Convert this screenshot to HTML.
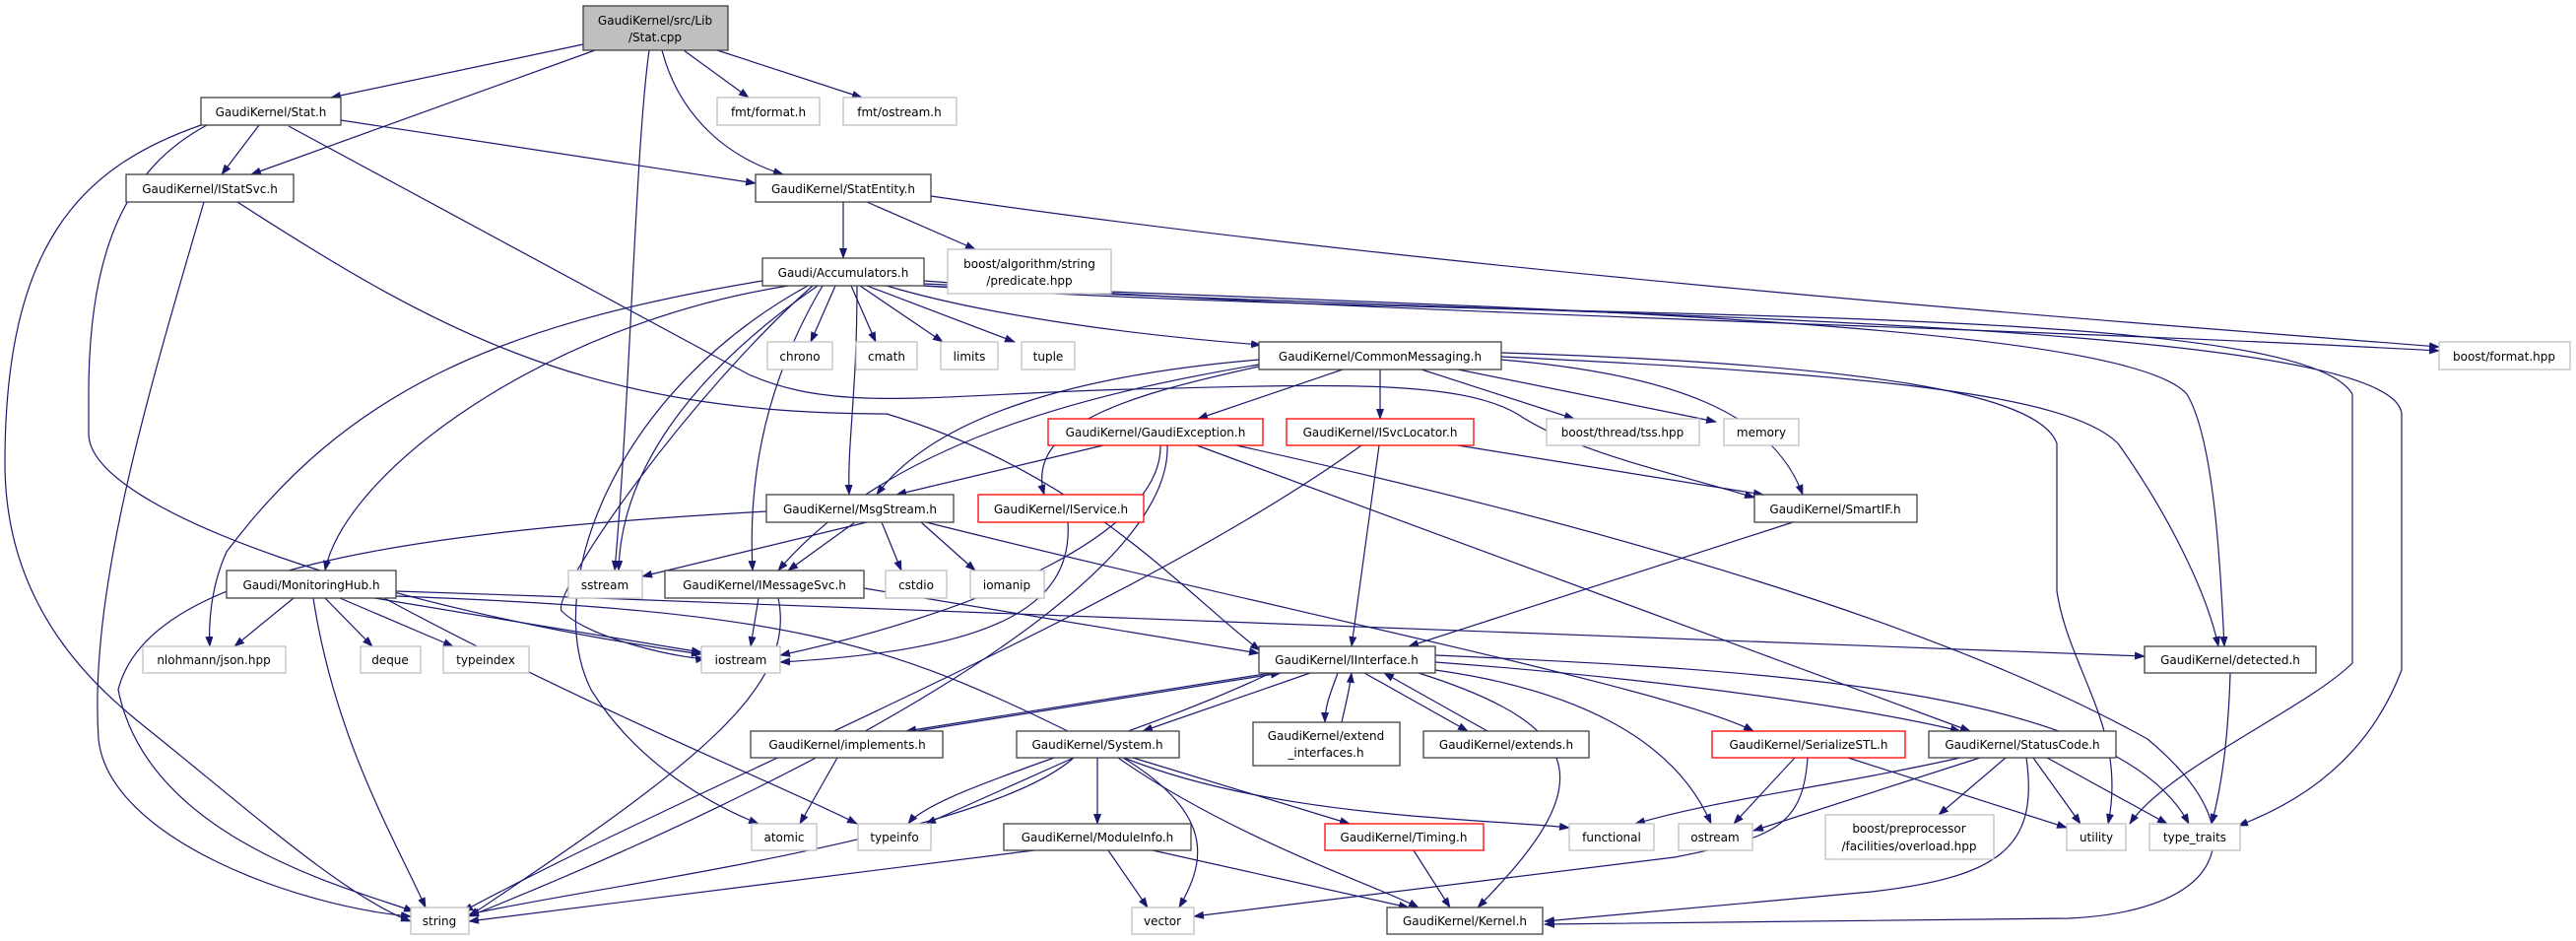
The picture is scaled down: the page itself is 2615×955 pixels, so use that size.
<!DOCTYPE html>
<html><head><meta charset="utf-8"><style>
html,body{margin:0;padding:0;background:#fff;}
svg{display:block;}
text{font-family:"DejaVu Sans","Liberation Sans",sans-serif;font-size:12px;fill:#000;text-anchor:middle;}
.e path{fill:none;stroke:#191970;stroke-width:1.2;}
.n rect{fill:#fff;stroke:#404040;stroke-width:1.3;}
.g rect{fill:#fff;stroke:#bfbfbf;stroke-width:1.3;}
.r rect{fill:#fff;stroke:#ff0000;stroke-width:1.3;}
</style></head><body>
<svg width="2615" height="955" viewBox="0 0 2615 955" xmlns="http://www.w3.org/2000/svg">
<defs><marker id="a" markerWidth="11" markerHeight="8" refX="10" refY="4" orient="auto" markerUnits="userSpaceOnUse"><path d="M0,0 L11,4 L0,8 z" fill="#191970"/></marker></defs>
<g class="e">
<path d="M592 45 L336 99" marker-end="url(#a)"/>
<path d="M604 51 L255 177" marker-end="url(#a)"/>
<path d="M659 51 C645 150,640 400,624 579" marker-end="url(#a)"/>
<path d="M672 51 C690 120,740 160,795 177" marker-end="url(#a)"/>
<path d="M694 51 L760 99" marker-end="url(#a)"/>
<path d="M728 51 L875 99" marker-end="url(#a)"/>
<path d="M263 127 L225 177" marker-end="url(#a)"/>
<path d="M346 122 L767 186" marker-end="url(#a)"/>
<path d="M204 127 C80 170,5 250,5 470 C5 620,100 700,150 740 C250 820,350 910,417 935" marker-end="url(#a)"/>
<path d="M210 127 C130 170,90 250,90 400 L90 440 C90 520,400 620,712 664" marker-end="url(#a)"/>
<path d="M293 128 L760 380 C850 420,950 400,1150 395 C1350 390,1480 385,1540 420 C1600 460,1700 480,1781 505" marker-end="url(#a)"/>
<path d="M207 205 C150 400,90 600,100 750 C110 850,300 920,417 930" marker-end="url(#a)"/>
<path d="M241 205 C450 340,600 420,900 420 C1100 480,1200 600,1279 660" marker-end="url(#a)"/>
<path d="M856 205 L856 262" marker-end="url(#a)"/>
<path d="M880 205 L990 253" marker-end="url(#a)"/>
<path d="M945 199 C1500 280,2200 330,2476 352" marker-end="url(#a)"/>
<path d="M848 290 L823 347" marker-end="url(#a)"/>
<path d="M864 290 L889 347" marker-end="url(#a)"/>
<path d="M873 290 L957 347" marker-end="url(#a)"/>
<path d="M880 290 L1030 347" marker-end="url(#a)"/>
<path d="M900 290 C1000 320,1150 340,1280 350" marker-end="url(#a)"/>
<path d="M938 285 C1400 320,2000 330,2476 356" marker-end="url(#a)"/>
<path d="M938 288 C1400 310,2150 320,2220 400 C2250 450,2255 600,2258 656" marker-end="url(#a)"/>
<path d="M938 290 C1500 330,2330 300,2388 400 L2388 673 C2340 720,2200 780,2162 836" marker-end="url(#a)"/>
<path d="M938 290 C1500 320,2430 320,2438 420 L2438 680 C2400 780,2320 820,2272 838" marker-end="url(#a)"/>
<path d="M800 290 C550 330,350 480,330 579" marker-end="url(#a)"/>
<path d="M774 285 C500 330,350 400,230 560 C212 600,212 640,213 656" marker-end="url(#a)"/>
<path d="M825 290 C700 400,560 600,570 620 C600 650,700 670,716 668" marker-end="url(#a)"/>
<path d="M830 290 C700 380,630 480,628 579" marker-end="url(#a)"/>
<path d="M870 290 C870 400,860 450,862 502" marker-end="url(#a)"/>
<path d="M820 290 C620 400,550 600,600 700 C650 780,730 820,770 836" marker-end="url(#a)"/>
<path d="M835 290 C770 400,760 500,764 579" marker-end="url(#a)"/>
<path d="M1363 375 L1216 425" marker-end="url(#a)"/>
<path d="M1401 375 L1401 425" marker-end="url(#a)"/>
<path d="M1443 375 L1598 425" marker-end="url(#a)"/>
<path d="M1480 375 L1742 428" marker-end="url(#a)"/>
<path d="M1524 365 C1700 380,1800 420,1830 502" marker-end="url(#a)"/>
<path d="M1524 362 C1900 380,2100 400,2150 450 C2200 520,2240 600,2252 656" marker-end="url(#a)"/>
<path d="M1524 358 C1900 370,2070 400,2088 450 L2088 600 C2100 680,2160 740,2140 836" marker-end="url(#a)"/>
<path d="M1278 365 C1100 380,950 420,890 502" marker-end="url(#a)"/>
<path d="M1278 370 C1100 400,900 450,790 579" marker-end="url(#a)"/>
<path d="M1278 372 C1150 400,1040 430,1060 502" marker-end="url(#a)"/>
<path d="M1120 452 L910 502" marker-end="url(#a)"/>
<path d="M1178 452 C1180 540,1000 620,792 665" marker-end="url(#a)"/>
<path d="M1185 452 C1190 600,800 800,476 930" marker-end="url(#a)"/>
<path d="M1215 452 L2000 742" marker-end="url(#a)"/>
<path d="M1255 452 C1700 550,2000 650,2180 750 C2300 850,2250 925,2100 932 L1568 938" marker-end="url(#a)"/>
<path d="M1480 452 L1790 502" marker-end="url(#a)"/>
<path d="M1400 452 L1372 656" marker-end="url(#a)"/>
<path d="M1382 452 C1150 620,700 800,470 925" marker-end="url(#a)"/>
<path d="M1084 530 C1090 620,1000 660,792 672" marker-end="url(#a)"/>
<path d="M880 530 L652 585" marker-end="url(#a)"/>
<path d="M868 530 L800 579" marker-end="url(#a)"/>
<path d="M895 530 L915 579" marker-end="url(#a)"/>
<path d="M935 530 L990 579" marker-end="url(#a)"/>
<path d="M778 519 C400 540,150 580,120 700 C150 850,350 900,420 925" marker-end="url(#a)"/>
<path d="M940 530 C1300 620,1700 700,1780 742" marker-end="url(#a)"/>
<path d="M1820 530 L1430 656" marker-end="url(#a)"/>
<path d="M298 607 L238 656" marker-end="url(#a)"/>
<path d="M330 607 L378 656" marker-end="url(#a)"/>
<path d="M345 607 L460 656" marker-end="url(#a)"/>
<path d="M380 607 L712 662" marker-end="url(#a)"/>
<path d="M318 607 C340 750,400 850,432 921" marker-end="url(#a)"/>
<path d="M402 600 C1000 620,1600 640,2177 666" marker-end="url(#a)"/>
<path d="M390 607 C600 720,800 800,870 836" marker-end="url(#a)"/>
<path d="M402 605 C800 620,900 650,1100 750 C1250 830,1500 830,1593 840" marker-end="url(#a)"/>
<path d="M770 607 L762 656" marker-end="url(#a)"/>
<path d="M877 597 L1278 663" marker-end="url(#a)"/>
<path d="M790 607 C810 700,700 780,476 930" marker-end="url(#a)"/>
<path d="M1290 683 L920 742" marker-end="url(#a)"/>
<path d="M930 742 L1300 683" marker-end="url(#a)"/>
<path d="M850 769 L812 836" marker-end="url(#a)"/>
<path d="M1330 683 L1160 742" marker-end="url(#a)"/>
<path d="M1358 683 C1352 700,1345 715,1345 733" marker-end="url(#a)"/>
<path d="M1362 733 C1366 715,1370 700,1372 683" marker-end="url(#a)"/>
<path d="M1385 683 L1490 742" marker-end="url(#a)"/>
<path d="M1510 742 L1405 683" marker-end="url(#a)"/>
<path d="M1290 683 C1150 750,950 800,922 836" marker-end="url(#a)"/>
<path d="M1457 680 C1600 700,1700 750,1737 836" marker-end="url(#a)"/>
<path d="M1440 683 C1620 740,1620 800,1500 921" marker-end="url(#a)"/>
<path d="M1457 672 C1700 690,1900 720,1990 742" marker-end="url(#a)"/>
<path d="M1457 665 C1800 680,2150 700,2222 836" marker-end="url(#a)"/>
<path d="M1090 769 L940 836" marker-end="url(#a)"/>
<path d="M1114 769 L1114 836" marker-end="url(#a)"/>
<path d="M1150 769 L1370 836" marker-end="url(#a)"/>
<path d="M1140 769 C1240 830,1220 880,1197 921" marker-end="url(#a)"/>
<path d="M1135 769 C1250 850,1400 900,1440 921" marker-end="url(#a)"/>
<path d="M1090 769 C1000 850,600 900,476 928" marker-end="url(#a)"/>
<path d="M1050 863 L476 935" marker-end="url(#a)"/>
<path d="M1125 863 L1165 921" marker-end="url(#a)"/>
<path d="M1170 863 L1430 921" marker-end="url(#a)"/>
<path d="M1435 863 L1472 921" marker-end="url(#a)"/>
<path d="M1822 769 L1760 836" marker-end="url(#a)"/>
<path d="M1876 769 L2098 840" marker-end="url(#a)"/>
<path d="M1835 769 C1830 840,1800 850,1700 870 L1212 930" marker-end="url(#a)"/>
<path d="M1990 769 C1850 800,1750 810,1660 836" marker-end="url(#a)"/>
<path d="M2010 769 L1780 843" marker-end="url(#a)"/>
<path d="M2036 769 L1968 827" marker-end="url(#a)"/>
<path d="M2064 769 L2112 836" marker-end="url(#a)"/>
<path d="M2078 769 L2200 836" marker-end="url(#a)"/>
<path d="M2057 769 C2070 860,2030 890,1900 905 L1568 935" marker-end="url(#a)"/>
<path d="M2264 683 C2262 750,2255 800,2245 836" marker-end="url(#a)"/>
</g>
<g>
<rect x="592" y="6" width="147" height="45" fill="#bfbfbf" stroke="#404040" stroke-width="1.3"/>
<text x="665" y="25">GaudiKernel/src/Lib</text><text x="665" y="42">/Stat.cpp</text>
</g>
<g class="n"><rect x="204" y="99" width="142" height="28"/><text x="275" y="118">GaudiKernel/Stat.h</text></g>
<g class="g"><rect x="728" y="99" width="104" height="28"/><text x="780" y="118">fmt/format.h</text></g>
<g class="g"><rect x="856" y="99" width="115" height="28"/><text x="913" y="118">fmt/ostream.h</text></g>
<g class="n"><rect x="128" y="177" width="170" height="28"/><text x="213" y="196">GaudiKernel/IStatSvc.h</text></g>
<g class="n"><rect x="767" y="177" width="178" height="28"/><text x="856" y="196">GaudiKernel/StatEntity.h</text></g>
<g class="n"><rect x="774" y="262" width="164" height="28"/><text x="856" y="281">Gaudi/Accumulators.h</text></g>
<g class="g"><rect x="962" y="253" width="166" height="45"/><text x="1045" y="272">boost/algorithm/string</text><text x="1045" y="289">/predicate.hpp</text></g>
<g class="g"><rect x="779" y="347" width="66" height="28"/><text x="812" y="366">chrono</text></g>
<g class="g"><rect x="869" y="347" width="62" height="28"/><text x="900" y="366">cmath</text></g>
<g class="g"><rect x="955" y="347" width="58" height="28"/><text x="984" y="366">limits</text></g>
<g class="g"><rect x="1037" y="347" width="54" height="28"/><text x="1064" y="366">tuple</text></g>
<g class="n"><rect x="1278" y="347" width="246" height="28"/><text x="1401" y="366">GaudiKernel/CommonMessaging.h</text></g>
<g class="g"><rect x="2476" y="347" width="133" height="28"/><text x="2542" y="366">boost/format.hpp</text></g>
<g class="r"><rect x="1064" y="425" width="218" height="27"/><text x="1173" y="443">GaudiKernel/GaudiException.h</text></g>
<g class="r"><rect x="1306" y="425" width="190" height="27"/><text x="1401" y="443">GaudiKernel/ISvcLocator.h</text></g>
<g class="g"><rect x="1570" y="425" width="155" height="27"/><text x="1647" y="443">boost/thread/tss.hpp</text></g>
<g class="g"><rect x="1750" y="425" width="76" height="27"/><text x="1788" y="443">memory</text></g>
<g class="n"><rect x="778" y="502" width="190" height="28"/><text x="873" y="521">GaudiKernel/MsgStream.h</text></g>
<g class="r"><rect x="993" y="502" width="168" height="28"/><text x="1077" y="521">GaudiKernel/IService.h</text></g>
<g class="n"><rect x="1781" y="502" width="165" height="28"/><text x="1863" y="521">GaudiKernel/SmartIF.h</text></g>
<g class="n"><rect x="230" y="579" width="172" height="28"/><text x="316" y="598">Gaudi/MonitoringHub.h</text></g>
<g class="g"><rect x="577" y="579" width="75" height="28"/><text x="614" y="598">sstream</text></g>
<g class="n"><rect x="675" y="579" width="202" height="28"/><text x="776" y="598">GaudiKernel/IMessageSvc.h</text></g>
<g class="g"><rect x="899" y="579" width="62" height="28"/><text x="930" y="598">cstdio</text></g>
<g class="g"><rect x="985" y="579" width="75" height="28"/><text x="1022" y="598">iomanip</text></g>
<g class="g"><rect x="145" y="656" width="145" height="27"/><text x="217" y="674">nlohmann/json.hpp</text></g>
<g class="g"><rect x="366" y="656" width="61" height="27"/><text x="396" y="674">deque</text></g>
<g class="g"><rect x="450" y="656" width="87" height="27"/><text x="493" y="674">typeindex</text></g>
<g class="g"><rect x="712" y="656" width="80" height="27"/><text x="752" y="674">iostream</text></g>
<g class="n"><rect x="1278" y="656" width="179" height="27"/><text x="1367" y="674">GaudiKernel/IInterface.h</text></g>
<g class="n"><rect x="2177" y="656" width="174" height="27"/><text x="2264" y="674">GaudiKernel/detected.h</text></g>
<g class="n"><rect x="762" y="742" width="195" height="27"/><text x="860" y="760">GaudiKernel/implements.h</text></g>
<g class="n"><rect x="1032" y="742" width="165" height="27"/><text x="1114" y="760">GaudiKernel/System.h</text></g>
<g class="n"><rect x="1272" y="733" width="149" height="44"/><text x="1346" y="751">GaudiKernel/extend</text><text x="1346" y="768">_interfaces.h</text></g>
<g class="n"><rect x="1445" y="742" width="168" height="27"/><text x="1529" y="760">GaudiKernel/extends.h</text></g>
<g class="r"><rect x="1738" y="742" width="196" height="27"/><text x="1836" y="760">GaudiKernel/SerializeSTL.h</text></g>
<g class="n"><rect x="1958" y="742" width="190" height="27"/><text x="2053" y="760">GaudiKernel/StatusCode.h</text></g>
<g class="g"><rect x="763" y="836" width="66" height="27"/><text x="796" y="854">atomic</text></g>
<g class="g"><rect x="871" y="836" width="74" height="27"/><text x="908" y="854">typeinfo</text></g>
<g class="n"><rect x="1019" y="836" width="190" height="27"/><text x="1114" y="854">GaudiKernel/ModuleInfo.h</text></g>
<g class="r"><rect x="1345" y="836" width="161" height="27"/><text x="1425" y="854">GaudiKernel/Timing.h</text></g>
<g class="g"><rect x="1593" y="836" width="86" height="27"/><text x="1636" y="854">functional</text></g>
<g class="g"><rect x="1704" y="836" width="75" height="27"/><text x="1741" y="854">ostream</text></g>
<g class="g"><rect x="1853" y="827" width="171" height="45"/><text x="1938" y="845">boost/preprocessor</text><text x="1938" y="863">/facilities/overload.hpp</text></g>
<g class="g"><rect x="2098" y="836" width="60" height="27"/><text x="2128" y="854">utility</text></g>
<g class="g"><rect x="2182" y="836" width="92" height="27"/><text x="2228" y="854">type_traits</text></g>
<g class="g"><rect x="417" y="921" width="59" height="27"/><text x="446" y="939">string</text></g>
<g class="g"><rect x="1149" y="921" width="63" height="27"/><text x="1180" y="939">vector</text></g>
<g class="n"><rect x="1408" y="921" width="158" height="27"/><text x="1487" y="939">GaudiKernel/Kernel.h</text></g>
</svg>
</body></html>
